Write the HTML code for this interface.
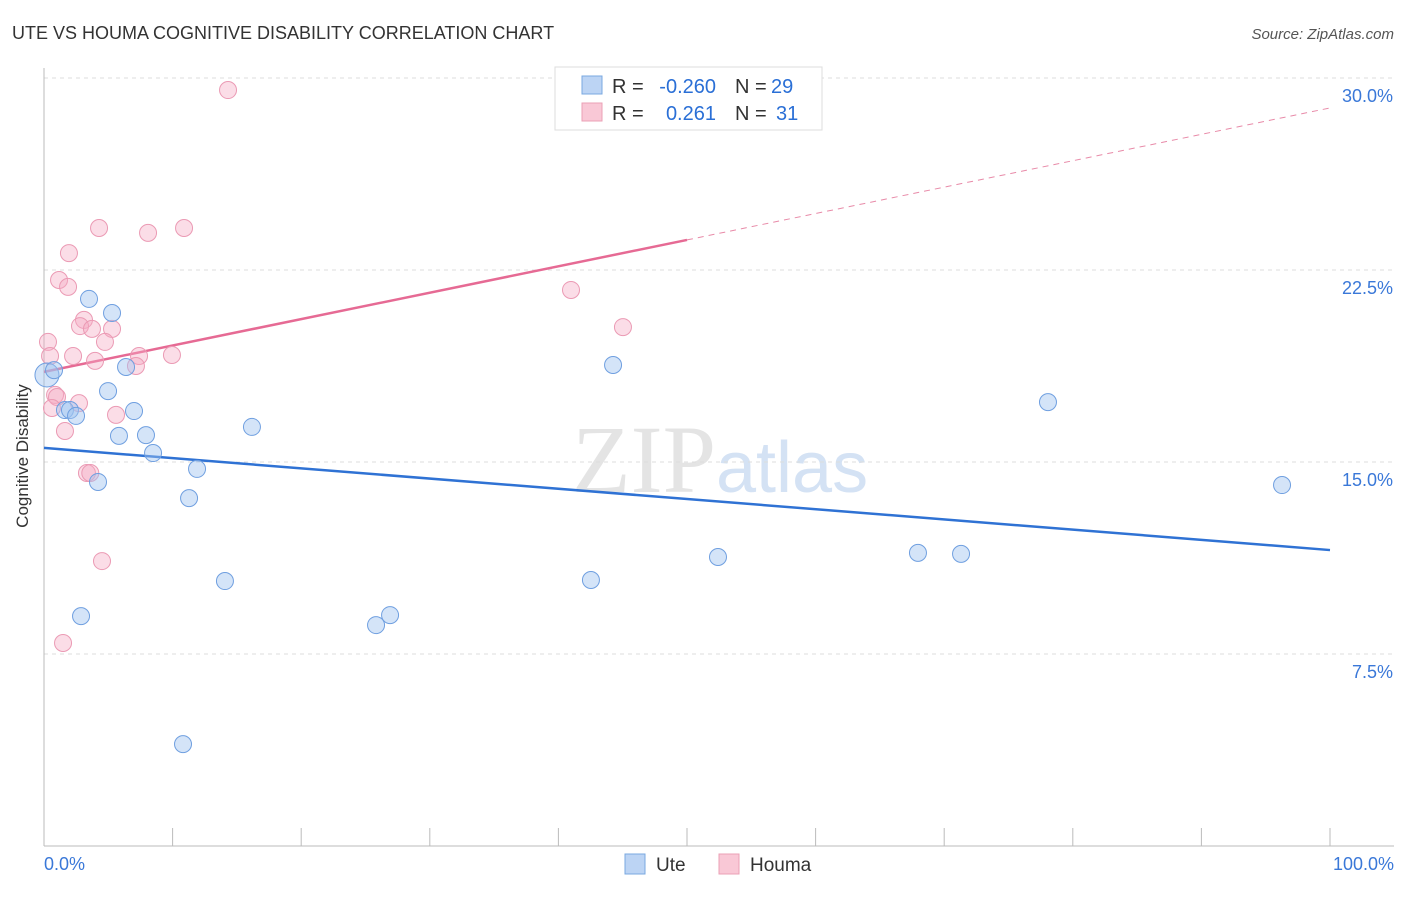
<!DOCTYPE html>
<html><head><meta charset="utf-8"><style>
body{margin:0;background:#fff;font-family:"Liberation Sans",sans-serif}
</style></head><body>
<svg width="1406" height="892" xmlns="http://www.w3.org/2000/svg">
<text x="12" y="39" font-size="18" fill="#333">UTE VS HOUMA COGNITIVE DISABILITY CORRELATION CHART</text>
<text x="1394" y="39" font-size="15" fill="#555" font-style="italic" text-anchor="end">Source: ZipAtlas.com</text>
<text x="28" y="456" font-size="17" fill="#333" text-anchor="middle" transform="rotate(-90 28 456)">Cognitive Disability</text>
<text x="716" y="492" font-size="96" fill="#e4e4e4" text-anchor="end" font-family="Liberation Serif">ZIP</text>
<text x="716" y="492" font-size="72" fill="#d4e2f4">atlas</text>
<g id="grid"></g>
<g id="axes"></g>
<g id="trend"></g>
<g id="pts"></g>
<g>
<rect x="555" y="67" width="267" height="63" fill="#fff" stroke="#ddd"/>
<rect x="582" y="76" width="20" height="18" fill="#bcd4f4" stroke="#7aa8e0"/>
<rect x="582" y="103" width="20" height="18" fill="#f9c8d6" stroke="#eba0b6"/>
<text x="612" y="93" font-size="20" fill="#333">R =</text>
<text x="716" y="93" font-size="20" fill="#2a6fd6" text-anchor="end">-0.260</text>
<text x="735" y="93" font-size="20" fill="#333">N =</text>
<text x="771" y="93" font-size="20" fill="#2a6fd6">29</text>
<text x="612" y="120" font-size="20" fill="#333">R =</text>
<text x="716" y="120" font-size="20" fill="#2a6fd6" text-anchor="end">0.261</text>
<text x="735" y="120" font-size="20" fill="#333">N =</text>
<text x="776" y="120" font-size="20" fill="#2a6fd6">31</text>
</g>
<g>
<rect x="625" y="854" width="20" height="20" fill="#bcd4f4" stroke="#7aa8e0"/>
<text x="656" y="871" font-size="19" fill="#333">Ute</text>
<rect x="719" y="854" width="20" height="20" fill="#f9c8d6" stroke="#eba0b6"/>
<text x="750" y="871" font-size="19" fill="#333">Houma</text>
</g>
</svg>
<script>
const yTicks=[7.5,15,22.5,30];
const yTickLabels=["7.5%","15.0%","22.5%","30.0%"];
const uteX=[0.23,0.78,1.63,2.02,2.49,3.5,2.88,4.2,4.98,5.29,5.83,6.38,7.0,7.93,8.48,10.81,11.28,11.9,14.07,16.17,25.82,26.91,42.53,44.25,52.41,67.96,71.31,78.07,96.27];
const uteY=[18.4,18.59,17.03,17.03,16.8,21.37,8.98,14.22,17.77,20.82,16.02,18.71,16.99,16.05,15.35,3.98,13.59,14.73,10.35,16.37,8.63,9.02,10.39,18.79,11.29,11.45,11.41,17.34,14.1];
const houmaX=[14.31,4.28,8.09,10.89,1.94,1.17,1.87,3.11,2.8,3.73,5.29,4.74,0.31,0.47,2.26,3.97,7.39,9.95,7.15,0.86,1.01,2.72,0.62,1.63,5.6,3.34,3.6,4.51,1.48,40.98,45.02];
const houmaY=[29.53,24.14,23.95,24.14,23.16,22.11,21.84,20.55,20.31,20.2,20.2,19.69,19.69,19.14,19.14,18.95,19.14,19.18,18.75,17.62,17.54,17.3,17.11,16.21,16.84,14.57,14.57,11.13,7.93,21.72,20.27];
const uteTrend=[15.55,11.56];
const houmaTrend=[18.52,28.83];
const NS="http://www.w3.org/2000/svg";
const xs=v=>44+v*12.86, ys=v=>846-v*25.6;
function mk(t,a,p){const e=document.createElementNS(NS,t);for(const k in a)e.setAttribute(k,a[k]);document.getElementById(p).appendChild(e);return e;}
yTicks.forEach((t,i)=>{
 const l=mk('line',{x1:44,x2:1394,y1:ys(t),y2:ys(t),stroke:'#ddd','stroke-dasharray':'4 4'},'grid');
 
 
 const tx=mk('text',{x:1393,y:ys(t)+24,'font-size':18,fill:'#3a78d8','text-anchor':'end'},'grid');
 tx.textContent=yTickLabels[i];
 
 
});
let a=mk('line',{x1:44,x2:44,y1:68,y2:846,stroke:'#bbb'},'axes');


a=mk('line',{x1:44,x2:1394,y1:846,y2:846,stroke:'#bbb'},'axes');


for(let i=0;i<=10;i++){const t=mk('line',{x1:xs(i*10),x2:xs(i*10),y1:828,y2:846,stroke:'#bbb'},'axes');
 
 }
let tl=mk('text',{x:44,y:870,'font-size':18,fill:'#3a78d8'},'axes');tl.textContent='0.0%';


tl=mk('text',{x:1394,y:870,'font-size':18,fill:'#3a78d8','text-anchor':'end'},'axes');tl.textContent='100.0%';


let ln=mk('line',{x1:xs(0),y1:ys(uteTrend[0]),x2:xs(100),y2:ys(uteTrend[1]),stroke:'#2f72d4','stroke-width':2.5},'trend');


const hy=x=>houmaTrend[0]+(houmaTrend[1]-houmaTrend[0])*x/100;
ln=mk('line',{x1:xs(0),y1:ys(hy(0)),x2:xs(50),y2:ys(hy(50)),stroke:'#e66a94','stroke-width':2.5},'trend');


ln=mk('line',{x1:xs(50),y1:ys(hy(50)),x2:xs(100),y2:ys(hy(100)),stroke:'#e88aa8','stroke-width':1,'stroke-dasharray':'6 5'},'trend');


houmaX.forEach((x,i)=>{const c=mk('circle',{cx:xs(x),cy:ys(houmaY[i]),r:8.5,fill:'rgba(245,170,195,0.4)',stroke:'#eb9ab4','stroke-width':1},'pts');
 
 });
uteX.forEach((x,i)=>{const c=mk('circle',{cx:xs(x),cy:ys(uteY[i]),r:i==0?12:8.5,fill:'rgba(160,195,240,0.45)',stroke:'#6f9fe0','stroke-width':1},'pts');
 
 });
</script>
</body></html>
